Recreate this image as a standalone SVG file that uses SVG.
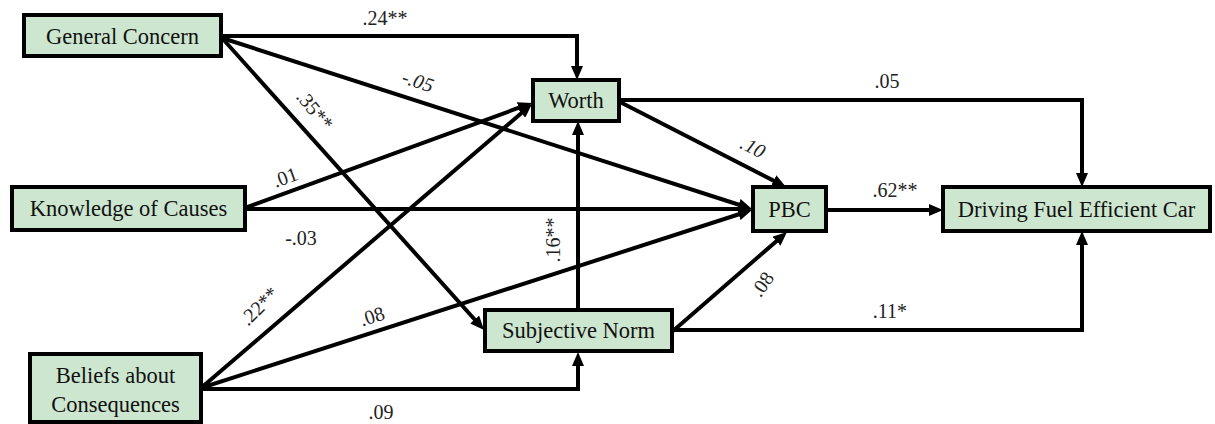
<svg xmlns="http://www.w3.org/2000/svg" width="1215" height="424" viewBox="0 0 1215 424">
<style>
.box{fill:#cde6cf;stroke:#000;stroke-width:4}
.nt{font-family:"Liberation Serif","Times New Roman",serif;font-size:22.5px;fill:#111;text-anchor:middle}
.lb{font-family:"Liberation Serif","Times New Roman",serif;font-size:20px;fill:#222;text-anchor:middle}
.it{font-style:italic}
.c{fill:none;stroke:#000;stroke-width:4;marker-end:url(#ah)}
</style>
<defs>
<marker id="ah" markerUnits="userSpaceOnUse" markerWidth="14" markerHeight="12" refX="6" refY="6" orient="auto">
<path d="M0,0 L14,6 L0,12 z" fill="#000"/>
</marker>
</defs>
<rect width="1215" height="424" fill="#fff"/>
<g id="connectors">
<path class="c" d="M222,36 H577 V72"/>
<path class="c" d="M222,38 L744.4,206.5"/>
<path class="c" d="M222,38 L478.7,324"/>
<path class="c" d="M245,208 L524.5,105.7"/>
<path class="c" d="M245,209 H744"/>
<path class="c" d="M201,388 L525.9,109.2"/>
<path class="c" d="M201,388 L744.4,212.5"/>
<path class="c" d="M201,389 H578 V360"/>
<path class="c" d="M578,310 V129"/>
<path class="c" d="M620,102 L778.9,183.4"/>
<path class="c" d="M620,100 H1082 V179"/>
<path class="c" d="M827,210 H935"/>
<path class="c" d="M673,331 L781,237.2"/>
<path class="c" d="M673,330 H1082 V239"/>
</g>
<g id="labels">
<text class="lb" x="385" y="25">.24**</text>
<text class="lb it" transform="translate(418,81) rotate(18)" y="7">-.05</text>
<text class="lb" transform="translate(315,110) rotate(50)" y="7">.35**</text>
<text class="lb" transform="translate(285,177) rotate(-20)" y="7">.01</text>
<text class="lb" x="301" y="245">-.03</text>
<text class="lb" transform="translate(259,306) rotate(-45)" y="7">.22**</text>
<text class="lb" transform="translate(372,316) rotate(-18)" y="7">.08</text>
<text class="lb" x="381" y="419">.09</text>
<text class="lb" transform="translate(553,240) rotate(-90)" y="7">.16**</text>
<text class="lb it" transform="translate(753,147) rotate(27)" y="7">.10</text>
<text class="lb" x="887" y="88">.05</text>
<text class="lb" x="895" y="197">.62**</text>
<text class="lb" transform="translate(762,284) rotate(-55)" y="7">.08</text>
<text class="lb" x="890" y="318">.11*</text>
</g>
<g id="general-concern">
<rect class="box" x="24" y="15" width="197" height="41"/>
<text class="nt" x="122.5" y="44">General Concern</text>
</g>
<g id="knowledge">
<rect class="box" x="12" y="187" width="233" height="43"/>
<text class="nt" x="128.5" y="216">Knowledge of Causes</text>
</g>
<g id="beliefs">
<rect class="box" x="30" y="354" width="171" height="68"/>
<text class="nt" x="115.5" y="383">Beliefs about</text>
<text class="nt" x="115.5" y="412">Consequences</text>
</g>
<g id="worth">
<rect class="box" x="533" y="80" width="86" height="41"/>
<text class="nt" x="576" y="108">Worth</text>
</g>
<g id="subjective-norm">
<rect class="box" x="485" y="310" width="187" height="41"/>
<text class="nt" x="578.5" y="338">Subjective Norm</text>
</g>
<g id="pbc">
<rect class="box" x="753" y="187" width="73" height="44"/>
<text class="nt" x="789.5" y="217">PBC</text>
</g>
<g id="driving">
<rect class="box" x="943" y="187" width="267" height="44"/>
<text class="nt" x="1076.5" y="217">Driving Fuel Efficient Car</text>
</g>
</svg>
